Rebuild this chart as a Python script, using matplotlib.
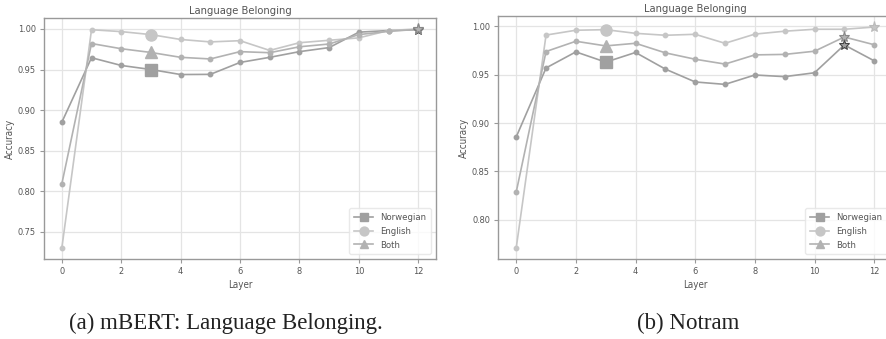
import numpy as np
import matplotlib.pyplot as plt

layers = list(range(13))

# mBERT
mbert_nor = [0.885, 0.9645, 0.955, 0.950, 0.9438, 0.944, 0.9587, 0.965, 0.972, 0.977, 0.996, 0.998, 0.999]
mbert_eng = [0.730, 0.999, 0.9967, 0.993, 0.987, 0.984, 0.9855, 0.9735, 0.983, 0.986, 0.989, 0.998, 1.000]
mbert_both = [0.809, 0.982, 0.9756, 0.971, 0.965, 0.963, 0.972, 0.9707, 0.978, 0.9814, 0.993, 0.997, 0.9995]

# Notram
notram_nor = [0.8856, 0.957, 0.9736, 0.963, 0.973, 0.9558, 0.9425, 0.940, 0.9497, 0.948, 0.952, 0.9808, 0.9644]
notram_eng = [0.7708, 0.991, 0.996, 0.9966, 0.9928, 0.9908, 0.9918, 0.9825, 0.992, 0.995, 0.997, 0.997, 0.9993]
notram_both = [0.8286, 0.974, 0.9846, 0.9798, 0.9825, 0.9726, 0.966, 0.961, 0.9705, 0.971, 0.9743, 0.989, 0.981]

names = ['Norwegian', 'English', 'Both']
colors = ['#a0a0a0', '#c6c6c6', '#b2b2b2']
big_markers = ['s', 'o', '^']
star_edges = ['#444444', '#bbbbbb', '#888888']
txt = '#555555'

plt.rcParams['font.family'] = 'DejaVu Sans'
plt.rcParams['font.stretch'] = 'condensed'

fig = plt.figure(figsize=(8.87, 3.39), dpi=100)
ax1 = fig.add_axes([0.0496, 0.236, 0.442, 0.711])
ax2 = fig.add_axes([0.5618, 0.236, 0.4439, 0.7168])


def draw(ax, series):
    handles = []
    for ys, name, c, m, se in zip(series, names, colors, big_markers, star_edges):
        ax.plot(layers, ys, color=c, lw=1.2, marker='o', ms=3.2, zorder=2)
        h, = ax.plot(layers[3], ys[3], color=c, lw=1.2, marker=m, ms=8, ls='-', zorder=3)
        handles.append(h)
        k = int(np.argmax(ys))
        ax.plot(layers[k], ys[k], marker='*', ms=8, color=c, mec=se, mew=0.8, zorder=4)
    ax.set_title('Language Belonging', fontsize=8, color=txt, pad=3)
    ax.set_xlabel('Layer', fontsize=7, color=txt, labelpad=3)
    ax.set_ylabel('Accuracy', fontsize=7, color=txt, labelpad=2)
    ax.set_xticks([0, 2, 4, 6, 8, 10, 12])
    ax.tick_params(labelsize=6.6, colors=txt, length=3, color='#999999', pad=3)
    ax.grid(True, color='#e4e4e4', lw=0.9)
    ax.set_axisbelow(True)
    for s in ax.spines.values():
        s.set_color('#999999')
        s.set_linewidth(1.0)
    leg = ax.legend(handles, names, loc='lower right', fontsize=6.8, frameon=True,
                    handlelength=2.0, borderpad=0.5, labelspacing=0.5, markerscale=0.8)
    leg.get_frame().set_edgecolor('#e4e4e4')
    for t in leg.get_texts():
        t.set_color(txt)


draw(ax1, [mbert_nor, mbert_eng, mbert_both])
draw(ax2, [notram_nor, notram_eng, notram_both])

fig.text(0.255, 0.047, '(a) mBERT: Language Belonging.', ha='center', va='center',
         fontsize=16.5, family='Liberation Serif', stretch='normal', color='#222222')
fig.text(0.776, 0.047, '(b) Notram', ha='center', va='center',
         fontsize=16.5, family='Liberation Serif', stretch='normal', color='#222222')

fig.savefig('out.png', dpi=100)
